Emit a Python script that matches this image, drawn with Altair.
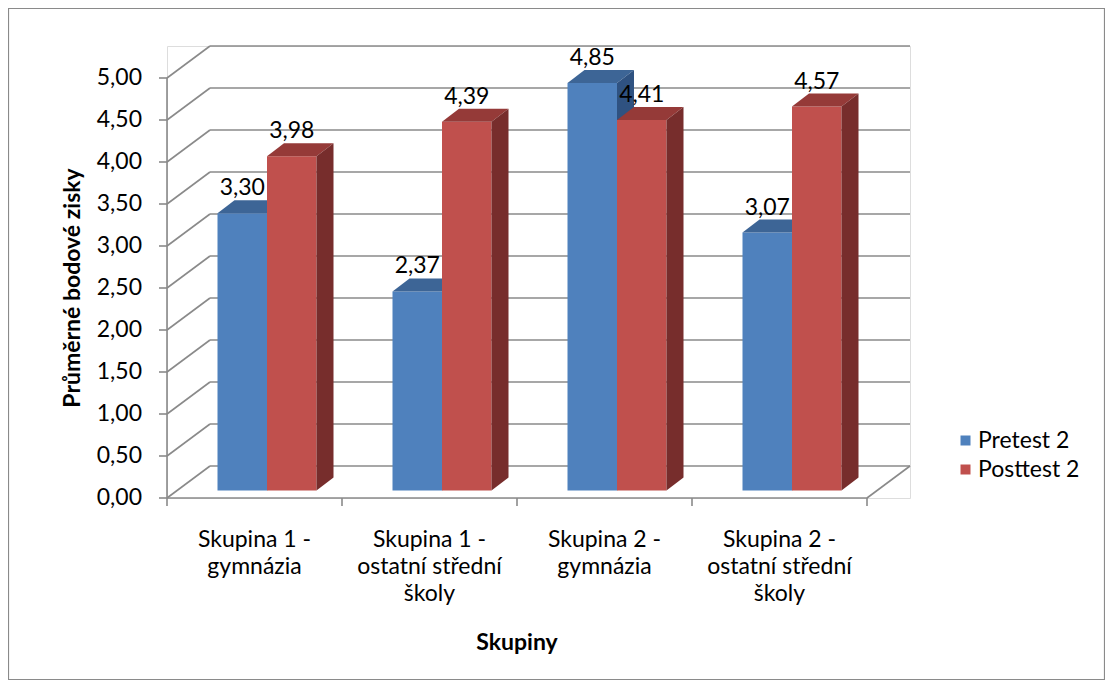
import altair as alt
import pandas as pd

# ---------------- data ----------------
categories = [
    "Skupina 1 -\ngymnázia",
    "Skupina 1 -\nostatní střední\nškoly",
    "Skupina 2 -\ngymnázia",
    "Skupina 2 -\nostatní střední\nškoly",
]
series = ["Pretest 2", "Posttest 2"]
pretest = [3.30, 2.37, 4.85, 3.07]
posttest = [3.98, 4.39, 4.41, 4.57]
y_ticks = [0.0, 0.5, 1.0, 1.5, 2.0, 2.5, 3.0, 3.5, 4.0, 4.5, 5.0]
x_ticks = [0, 1, 2, 3, 4]
y_title = "Průměrné bodové zisky"
x_title = "Skupiny"

# ---------------- style / 3D geometry ----------------
FONT = "Lato"
FS = 23
PX_X, PX_Y = 175.0, 84.0          # pixels per category, pixels per unit
DX, DY = 43 / PX_X, 32 / PX_Y     # wall depth
BX, BY = 12.5 / PX_X, 7.5 / PX_Y  # bar plane offset
BW = 49.5 / PX_X                  # bar width
BDX, BDY = 17 / PX_X, 13 / PX_Y   # bar depth
TICK_X, TICK_Y = 8 / PX_X, 8 / PX_Y
W = (4 + DX) * PX_X
H = (5 + DY) * PX_Y
GRID = "#8a8a8a"
front_cols = {"Pretest 2": "#4F81BD", "Posttest 2": "#C0504D"}
top_cols = {"Pretest 2": "#3D6596", "Posttest 2": "#953A38"}
side_cols = {"Pretest 2": "#2F5281", "Posttest 2": "#772D2C"}

xs = alt.Scale(domain=[0, 4 + DX], nice=False, zero=False)
ys = alt.Scale(domain=[0, 5 + DY], nice=False, zero=False)

# ---------------- frame lines (walls, floor, axes, ticks) ----------------
lines = []
for k in y_ticks:
    lines.append(dict(x=DX, x2=4 + DX, y=k + DY, y2=k + DY))   # back wall grid
    lines.append(dict(x=0, x2=DX, y=k, y2=k + DY))             # side wall diag
    lines.append(dict(x=-TICK_X, x2=0, y=k, y2=k))             # y tick
for t in x_ticks:
    lines.append(dict(x=t, x2=t, y=-TICK_Y, y2=0))             # x tick
lines.append(dict(x=0, x2=0, y=0, y2=5))                       # front y axis
lines.append(dict(x=0, x2=4, y=0, y2=0))                       # front x axis
lines.append(dict(x=4, x2=4 + DX, y=0, y2=DY))                 # floor right edge
lines_df = pd.DataFrame(lines)

values = {"Pretest 2": pretest, "Posttest 2": posttest}

front_rows, top_rows, side_rows, label_rows = [], [], [], []
for j, s in enumerate(series):
    for i, v in enumerate(values[s]):
        x0 = i + 0.5 + BX + (j - 1) * BW
        x1 = x0 + BW
        bid = f"{s}-{i}"
        front_rows.append(dict(series=s, x0=x0, x1=x1, y0=BY, y1=v + BY))
        top_rows.append(dict(series=s, id=bid, col=top_cols[s], y=v + BY, xa=x0, xb=x1))
        top_rows.append(dict(series=s, id=bid, col=top_cols[s], y=v + BY + BDY, xa=x0 + BDX, xb=x1 + BDX))
        side_rows.append(dict(series=s, id=bid, col=side_cols[s], x=x1, ya=BY, yb=v + BY))
        side_rows.append(dict(series=s, id=bid, col=side_cols[s], x=x1 + BDX, ya=BY + BDY, yb=v + BY + BDY))
        label_rows.append(dict(series=s, x=(x0 + x1) / 2, y=v + BY, txt=f"{v:.2f}".replace(".", ",")))

front_df = pd.DataFrame(front_rows)
top_df = pd.DataFrame(top_rows)
side_df = pd.DataFrame(side_rows)
label_df = pd.DataFrame(label_rows)
cat_df = pd.DataFrame(dict(x=[i + 0.5 for i in range(4)], y=[0] * 4, txt=categories))
ylab_df = pd.DataFrame(dict(x=[0] * len(y_ticks), y=y_ticks,
                            txt=[f"{k:.2f}".replace(".", ",") for k in y_ticks]))
ytitle_df = pd.DataFrame(dict(x=[-94 / PX_X], y=[2.5], txt=[y_title]))
xtitle_df = pd.DataFrame(dict(x=[2.0], y=[0.0], txt=[x_title]))

X = lambda f: alt.X(f, scale=xs, axis=None)
Y = lambda f: alt.Y(f, scale=ys, axis=None)

# ---------------- layers ----------------
frame = alt.Chart(pd.DataFrame({"a": [0]})).mark_rect(
    filled=False, stroke="#8a8a8a", strokeWidth=1.2
).encode(
    x=alt.value(-158.5), x2=alt.value(937.5), y=alt.value(-37.5), y2=alt.value(633.5)
)

grid = alt.Chart(lines_df).mark_rule(color=GRID, strokeWidth=1.6).encode(
    x=X("x:Q"), x2="x2:Q", y=Y("y:Q"), y2="y2:Q",
)

color_scale = alt.Scale(domain=series, range=[front_cols[s] for s in series])
legend = alt.Legend(
    title=None, orient="none", legendX=787, legendY=383,
    symbolType="square", symbolSize=100, symbolStrokeWidth=0,
    labelFont=FONT, labelFontSize=FS, labelColor="black", labelOffset=1,
    rowPadding=5,
)


def bar_layers(s):
    f = alt.Chart(front_df[front_df.series == s]).mark_bar().encode(
        x=X("x0:Q"), x2="x1:Q", y=Y("y0:Q"), y2="y1:Q",
        color=alt.Color("series:N", scale=color_scale, legend=legend),
    )
    t = alt.Chart(top_df[top_df.series == s]).mark_area(orient="horizontal").encode(
        y=Y("y:Q"),
        x=alt.X("xa:Q", scale=xs, axis=None, stack=None), x2="xb:Q",
        fill=alt.Fill("col:N", scale=None),
        detail="id:N",
    )
    sd = alt.Chart(side_df[side_df.series == s]).mark_area(orient="vertical").encode(
        x=X("x:Q"),
        y=alt.Y("ya:Q", scale=ys, axis=None, stack=None), y2="yb:Q",
        fill=alt.Fill("col:N", scale=None),
        detail="id:N",
    )
    return [f, t, sd]


labels = alt.Chart(label_df).mark_text(
    font=FONT, fontSize=FS, color="black", baseline="alphabetic", dy=-18
).encode(x=X("x:Q"), y=Y("y:Q"), text="txt:N")

cat_labels = alt.Chart(cat_df).mark_text(
    font=FONT, fontSize=FS, color="black", baseline="top", align="center",
    dy=31, lineBreak="\n", lineHeight=27
).encode(x=X("x:Q"), y=Y("y:Q"), text="txt:N")

y_labels = alt.Chart(ylab_df).mark_text(
    font=FONT, fontSize=FS, color="black", baseline="middle", align="right", dx=-25
).encode(x=X("x:Q"), y=Y("y:Q"), text="txt:N")

y_title_mark = alt.Chart(ytitle_df).mark_text(
    font=FONT, fontSize=FS, fontWeight="bold", color="black",
    baseline="middle", align="center", angle=270
).encode(x=X("x:Q"), y=Y("y:Q"), text="txt:N")

x_title_mark = alt.Chart(xtitle_df).mark_text(
    font=FONT, fontSize=FS, fontWeight="bold", color="black",
    baseline="middle", align="center", dy=145
).encode(x=X("x:Q"), y=Y("y:Q"), text="txt:N")

layers = [frame, grid]
for s in series:
    layers += bar_layers(s)
layers += [labels, cat_labels, y_labels, y_title_mark, x_title_mark]

chart = alt.layer(*layers).properties(
    width=W, height=H,
    autosize=alt.AutoSizeParams(type="none"),
    padding={"left": 159, "top": 38, "right": 1097 - 159 - W, "bottom": 672 - 38 - H},
).configure_view(stroke=None).configure(background="white")

chart.save("out.html", embed_options={"renderer": "svg", "actions": False})
